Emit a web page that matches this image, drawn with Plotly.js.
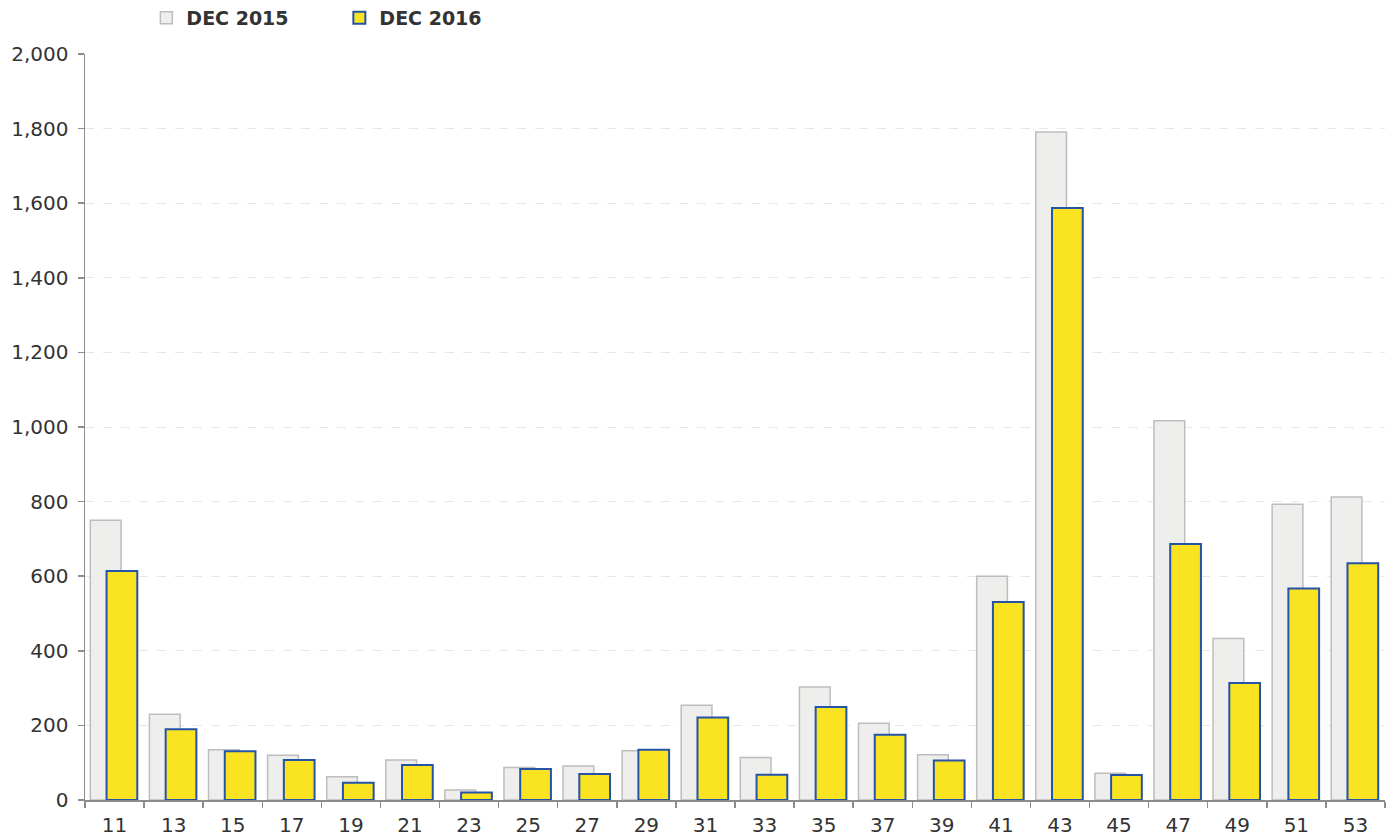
<!DOCTYPE html>
<html>
<head>
<meta charset="utf-8">
<script src="https://cdn.plot.ly/plotly-3.0.1.min.js"></script>
<style>html,body{margin:0;padding:0;background:#fff;}#chart{width:1391px;height:838px;}</style>
</head>
<body>
<div id="chart"></div>
<script>
const categories = ["11","13","15","17","19","21","23","25","27","29","31","33","35","37","39","41","43","45","47","49","51","53"];
const dec2015 = [750,230,135,120,62,107,27,87,91,132,254,114,303,206,121,600,1791,72,1017,433,793,812];
const dec2016 = [614,190,131,107,46,94,20,83,70,135,221,68,249,175,106,531,1587,67,686,314,567,635];
const seriesNames = ["DEC 2015","DEC 2016"];

const traces = [
  {
    type: 'bar', name: seriesNames[0], x: categories, y: dec2015,
    width: 0.52, offset: -0.41,
    marker: {color: '#eeeeec', line: {color: '#bdbdbd', width: 1.5}},
    hoverinfo: 'x+y'
  },
  {
    type: 'bar', name: seriesNames[1], x: categories, y: dec2016,
    width: 0.52, offset: -0.135,
    marker: {color: '#fae321', line: {color: '#2553a8', width: 2}},
    hoverinfo: 'x+y'
  }
];

const layout = {
  width: 1391, height: 838,
  margin: {l: 85, r: 6, t: 54, b: 38, pad: 0, autoexpand: false},
  paper_bgcolor: '#ffffff', plot_bgcolor: '#ffffff',
  barmode: 'overlay',
  separators: '.,',
  font: {family: 'DejaVu Sans, Liberation Sans, Arial, sans-serif', color: '#333333', size: 20},
  showlegend: true,
  legend: {
    orientation: 'h', xref: 'paper', yref: 'container',
    x: 0.0472, y: 0.9785, xanchor: 'left', yanchor: 'middle',
    font: {size: 19, weight: 'bold', color: '#333333'},
    itemwidth: 30, entrywidth: 148, entrywidthmode: 'pixels',
    bgcolor: 'rgba(0,0,0,0)', traceorder: 'normal'
  },
  xaxis: {
    type: 'category',
    showline: true, linecolor: '#8c8c8c', linewidth: 1.5,
    ticks: 'outside', tickson: 'boundaries', ticklen: 6, tickcolor: '#8c8c8c', tickwidth: 1.5,
    ticklabelstandoff: 6,
    showgrid: false, zeroline: false,
    tickfont: {size: 20, color: '#333333'},
    range: [-0.5, 21.5], fixedrange: true
  },
  yaxis: {
    range: [0, 2000], dtick: 200, tickformat: ',d',
    showline: true, linecolor: '#8c8c8c', linewidth: 1.5,
    ticks: 'outside', ticklen: 6, tickcolor: '#8c8c8c', tickwidth: 1.5,
    ticklabelstandoff: 5,
    showgrid: true, gridcolor: '#e8e8e2', gridwidth: 1, griddash: 'dash',
    zeroline: false,
    tickfont: {size: 20, color: '#333333'},
    fixedrange: true
  }
};

Plotly.newPlot('chart', traces, layout, {displayModeBar: false, staticPlot: true});
</script>
</body>
</html>
